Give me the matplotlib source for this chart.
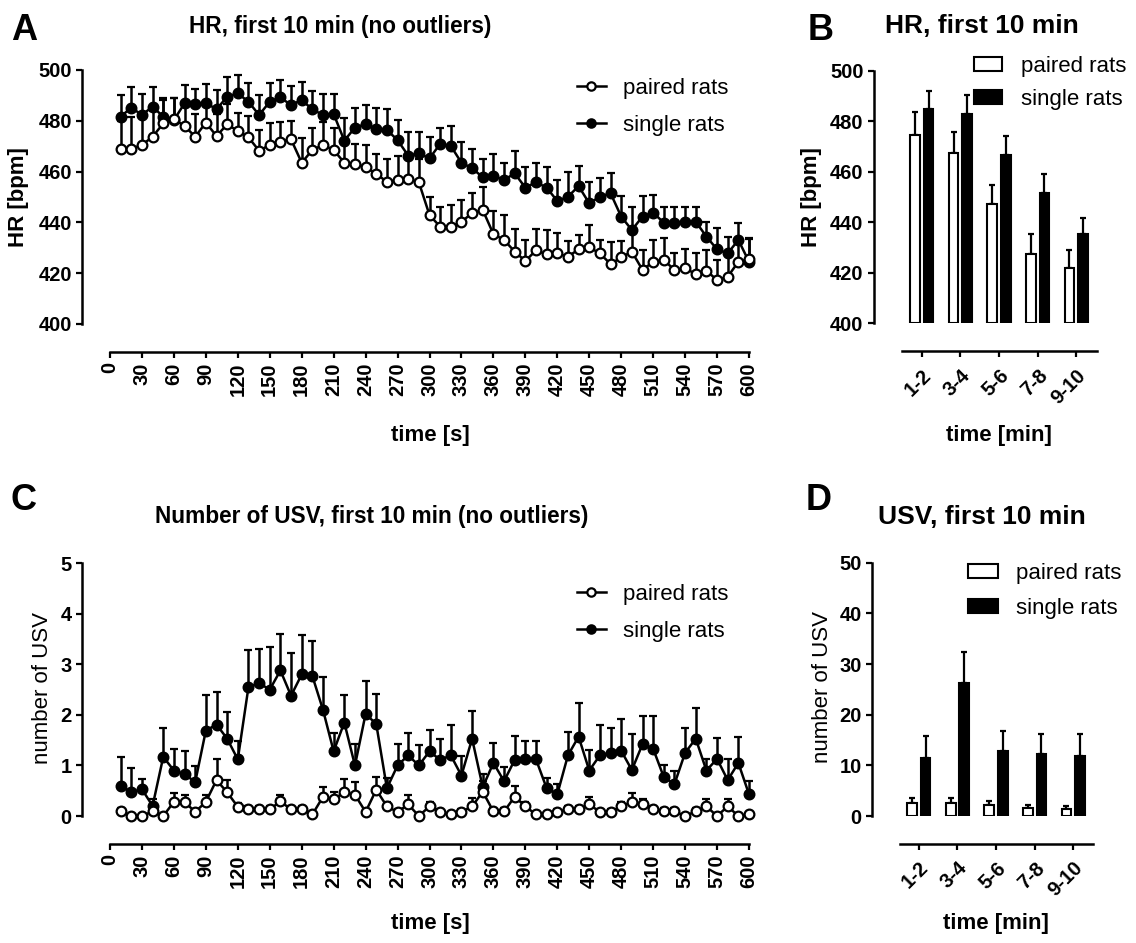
import numpy as np
import matplotlib
matplotlib.use('Agg')
import matplotlib.pyplot as plt
from matplotlib import font_manager as fm
from matplotlib.lines import Line2D
from matplotlib.patches import Patch

# ---------------- data ----------------
time_s = list(range(10, 601, 10))

hr_paired = [468.8, 469.0, 470.5, 473.7, 479.0, 480.6, 478.0, 473.7, 479.3, 474.0,
             478.6, 476.0, 473.5, 468.2, 470.5, 471.8, 472.7, 463.5, 468.5, 470.5,
             468.5, 463.5, 462.9, 461.9, 459.1, 456.0, 456.7, 457.1, 455.8, 442.9,
             438.3, 438.1, 440.3, 443.6, 444.9, 435.4, 433.1, 428.5, 424.8, 429.0,
             427.4, 427.8, 426.5, 429.4, 430.2, 427.8, 423.6, 426.2, 428.5, 421.3,
             424.5, 425.2, 421.3, 421.9, 419.7, 421.0, 417.3, 418.6, 424.5, 425.5]
hr_paired_err = [11.0, 12.6, 11.0, 10.0, 9.0, 8.5, 8.5, 8.9, 8.5, 8.7,
                 8.0, 7.2, 8.4, 8.1, 8.8, 7.9, 7.2, 9.6, 8.5, 8.9,
                 8.8, 8.5, 8.0, 8.5, 7.9, 8.9, 9.6, 9.0, 9.0, 7.0,
                 7.9, 8.8, 8.5, 8.1, 9.2, 9.1, 9.8, 8.8, 8.3, 8.4,
                 9.6, 7.9, 6.3, 5.6, 8.8, 5.2, 8.8, 6.4, 7.2, 7.9,
                 8.5, 8.5, 6.6, 7.5, 8.1, 8.1, 7.9, 8.0, 8.0, 8.0]
hr_single = [481.6, 485.2, 482.3, 485.6, 481.6, 480.3, 486.9, 486.5, 487.1, 484.5,
             489.5, 490.8, 487.5, 482.3, 487.5, 489.2, 486.2, 488.2, 484.5, 482.3,
             482.7, 472.2, 477.3, 478.7, 476.8, 476.4, 472.4, 466.3, 467.2, 465.2,
             470.9, 470.1, 463.5, 461.3, 457.8, 458.4, 456.7, 459.3, 453.7, 455.8,
             453.7, 448.4, 450.1, 454.3, 447.5, 450.1, 451.5, 442.3, 437.0, 442.3,
             443.8, 439.9, 439.9, 440.3, 440.3, 434.4, 429.4, 427.8, 433.1, 424.5]
hr_single_err = [8.5, 8.3, 8.3, 7.9, 7.5, 8.5, 7.2, 5.9, 7.3, 7.6,
                 7.9, 7.2, 7.2, 7.9, 7.5, 6.8, 7.5, 7.2, 7.3, 8.3,
                 7.9, 8.8, 7.6, 7.7, 8.1, 8.3, 7.9, 9.4, 8.5, 8.5,
                 6.4, 7.9, 8.3, 7.5, 7.1, 8.4, 6.8, 8.8, 8.0, 7.6,
                 8.3, 8.3, 9.8, 7.9, 8.5, 7.2, 8.1, 7.9, 9.2, 7.9,
                 7.0, 6.3, 6.3, 5.9, 5.9, 5.9, 8.3, 6.6, 6.6, 9.2]

usv_paired = [0.09, 0.0, 0.0, 0.09, 0.0, 0.28, 0.28, 0.08, 0.28, 0.71,
              0.47, 0.18, 0.13, 0.13, 0.13, 0.29, 0.13, 0.13, 0.03, 0.38,
              0.33, 0.47, 0.42, 0.08, 0.52, 0.19, 0.08, 0.23, 0.0, 0.19,
              0.08, 0.03, 0.08, 0.19, 0.48, 0.09, 0.09, 0.38, 0.19, 0.03,
              0.03, 0.08, 0.13, 0.13, 0.23, 0.08, 0.08, 0.19, 0.28, 0.23,
              0.13, 0.09, 0.09, 0.0, 0.09, 0.19, 0.0, 0.19, 0.0, 0.03]
usv_paired_err = [0.06, 0.0, 0.0, 0.06, 0.0, 0.17, 0.14, 0.06, 0.14, 0.41,
                  0.24, 0.08, 0.06, 0.06, 0.06, 0.13, 0.06, 0.06, 0.03, 0.19,
                  0.15, 0.26, 0.25, 0.06, 0.26, 0.08, 0.06, 0.19, 0.0, 0.08,
                  0.06, 0.03, 0.06, 0.16, 0.21, 0.06, 0.06, 0.21, 0.08, 0.03,
                  0.03, 0.06, 0.06, 0.06, 0.15, 0.06, 0.06, 0.08, 0.17, 0.10,
                  0.06, 0.06, 0.06, 0.0, 0.06, 0.14, 0.0, 0.14, 0.0, 0.03]
usv_single = [0.60, 0.47, 0.53, 0.20, 1.17, 0.90, 0.83, 0.67, 1.69, 1.81,
              1.53, 1.12, 2.55, 2.63, 2.50, 2.88, 2.38, 2.80, 2.77, 2.10,
              1.28, 1.85, 1.00, 2.02, 1.82, 0.55, 1.00, 1.20, 1.00, 1.28,
              1.11, 1.20, 0.80, 1.53, 0.57, 1.05, 0.69, 1.11, 1.12, 1.12,
              0.55, 0.43, 1.20, 1.57, 0.90, 1.20, 1.25, 1.29, 0.91, 1.42,
              1.33, 0.77, 0.63, 1.25, 1.53, 0.90, 1.13, 0.71, 1.05, 0.43]
usv_single_err = [0.57, 0.48, 0.20, 0.13, 0.58, 0.43, 0.46, 0.32, 0.70, 0.64,
                  0.52, 0.36, 0.73, 0.67, 0.85, 0.73, 0.84, 0.78, 0.70, 0.65,
                  0.37, 0.55, 0.42, 0.66, 0.59, 0.20, 0.43, 0.45, 0.41, 0.42,
                  0.41, 0.60, 0.38, 0.55, 0.26, 0.40, 0.28, 0.47, 0.36, 0.37,
                  0.20, 0.20, 0.47, 0.66, 0.40, 0.60, 0.50, 0.63, 0.71, 0.55,
                  0.64, 0.23, 0.26, 0.50, 0.60, 0.23, 0.42, 0.41, 0.52, 0.26]

blocks = ['1-2', '3-4', '5-6', '7-8', '9-10']
hr_block_paired = [474.5, 467.3, 447.1, 427.4, 421.8]
hr_block_paired_err = [9.3, 8.6, 7.6, 7.8, 7.2]
hr_block_single = [484.7, 482.8, 466.6, 451.4, 435.2]
hr_block_single_err = [7.4, 7.5, 7.5, 7.6, 6.4]
usv_block_paired = [2.5, 2.6, 2.2, 1.5, 1.3]
usv_block_paired_err = [1.1, 1.0, 0.8, 0.7, 0.7]
usv_block_single = [11.4, 26.3, 12.9, 12.2, 11.8]
usv_block_single_err = [4.3, 6.1, 3.9, 3.9, 4.4]

# ---------------- fonts ----------------
def has_font(name):
    try:
        fm.findfont(fm.FontProperties(family=name, weight='bold'), fallback_to_default=False)
        return True
    except Exception:
        return False

BASE = 'Liberation Sans' if has_font('Liberation Sans') else 'DejaVu Sans'
plt.rcParams['font.family'] = [BASE, 'DejaVu Sans']
NARROW = has_font('Liberation Sans Narrow')
if NARROW:
    left_title_font = dict(family=['Liberation Sans Narrow', BASE], size=19, weight='bold')
else:
    left_title_font = dict(family=[BASE, 'DejaVu Sans'], size=16.3, weight='bold')

W, H = 1136, 943
fig = plt.figure(figsize=(W / 100, H / 100), dpi=100)

def axes_px(left, right, top, bottom):
    return fig.add_axes([left / W, 1 - bottom / H, (right - left) / W, (bottom - top) / H])

def fx(x):
    return x / W

def fy(y):
    return 1 - y / H

TICK_FS = 14.5
LABEL_FS = 16

def style(ax):
    for s in ['top', 'right']:
        ax.spines[s].set_visible(False)
    for s in ['left', 'bottom']:
        ax.spines[s].set_position(('outward', 20))
        ax.spines[s].set_linewidth(1.8)
    ax.tick_params(direction='out', length=4.5, width=1.6, labelsize=TICK_FS, pad=3)
    for lab in ax.get_xticklabels() + ax.get_yticklabels():
        lab.set_fontweight('bold')

def line_panel(ax, yp, ep, ys, es, ylim, yticks):
    t = np.array(time_s)
    yp, ep, ys, es = map(np.array, (yp, ep, ys, es))
    kw = dict(color='black', lw=1.8, elinewidth=1.8, capsize=3.2, capthick=1.8,
              ms=7, mew=1.6, clip_on=False)
    ax.errorbar(t, ys, yerr=[np.zeros_like(es), es], fmt='-o', mfc='black', mec='black',
                zorder=3, **kw)
    ax.errorbar(t, yp, yerr=[np.zeros_like(ep), ep], fmt='-o', mfc='white', mec='black',
                zorder=4, **kw)
    ax.set_xlim(0, 600)
    ax.set_ylim(*ylim)
    ax.set_xticks(np.arange(0, 601, 30))
    ax.set_yticks(yticks)
    style(ax)
    for lab in ax.get_xticklabels():
        lab.set_rotation(90)
    handles = [Line2D([], [], color='black', lw=1.8, marker='o', ms=6, mfc='white', mec='black', mew=1.6),
               Line2D([], [], color='black', lw=1.8, marker='o', ms=6, mfc='black', mec='black', mew=1.6)]
    return handles

def bar_panel(ax, yp, ep, ys, es, base, ylim, yticks, xlim):
    x = np.arange(len(blocks))
    yp, ep, ys, es = map(np.array, (yp, ep, ys, es))
    w = 0.25
    off = 0.175
    ax.bar(x - off, yp - base, w, bottom=base, color='white', edgecolor='black', lw=1.5, zorder=3)
    ax.bar(x + off, ys - base, w, bottom=base, color='black', edgecolor='black', lw=1.5, zorder=3)
    ekw = dict(fmt='none', ecolor='black', elinewidth=1.6, capsize=2.4, capthick=1.6, zorder=2)
    ax.errorbar(x - off, yp, yerr=[np.zeros_like(ep), ep], **ekw)
    ax.errorbar(x + off, ys, yerr=[np.zeros_like(es), es], **ekw)
    ax.set_xlim(*xlim)
    ax.set_ylim(*ylim)
    ax.set_yticks(yticks)
    ax.set_xticks(x)
    ax.set_xticklabels(blocks)
    style(ax)
    for lab in ax.get_xticklabels():
        lab.set_rotation(45)
        lab.set_ha('right')
        lab.set_rotation_mode('anchor')
    ax.tick_params(axis='x', pad=6)
    handles = [Patch(facecolor='white', edgecolor='black', lw=1.5),
               Patch(facecolor='black', edgecolor='black', lw=1.5)]
    return handles

labels = ['paired rats', 'single rats']

# ---------- Panel A ----------
axA = axes_px(110, 749, 70, 324)
hA = line_panel(axA, hr_paired, hr_paired_err, hr_single, hr_single_err, (400, 500),
                np.arange(400, 501, 20))
fig.legend(hA, labels, loc='upper left', bbox_to_anchor=(fx(577), fy(78)),
           bbox_transform=fig.transFigure, frameon=False, fontsize=16,
           handlelength=1.3, handletextpad=0.75, labelspacing=0.71, borderpad=0,
           borderaxespad=0)

# ---------- Panel B ----------
axB = axes_px(901.7, 1096.7, 70.7, 323.3)
hB = bar_panel(axB, hr_block_paired, hr_block_paired_err, hr_block_single, hr_block_single_err,
               400, (400, 500), np.arange(400, 501, 20), (-0.52, 4.53))
fig.legend(hB, labels, loc='upper left', bbox_to_anchor=(fx(974), fy(56)),
           bbox_transform=fig.transFigure, frameon=False, fontsize=16,
           handlelength=1.25, handleheight=0.6, handletextpad=0.85, labelspacing=0.52,
           borderpad=0, borderaxespad=0)

# ---------- Panel C ----------
axC = axes_px(110, 749, 563.3, 816)
hC = line_panel(axC, usv_paired, usv_paired_err, usv_single, usv_single_err, (0, 5),
                np.arange(0, 6, 1))
fig.legend(hC, labels, loc='upper left', bbox_to_anchor=(fx(577), fy(584)),
           bbox_transform=fig.transFigure, frameon=False, fontsize=16,
           handlelength=1.3, handletextpad=0.75, labelspacing=0.71, borderpad=0,
           borderaxespad=0)

# ---------- Panel D ----------
axD = axes_px(900, 1093.3, 562.7, 816)
hD = bar_panel(axD, usv_block_paired, usv_block_paired_err, usv_block_single, usv_block_single_err,
               0, (0, 50), np.arange(0, 51, 10), (-0.49, 4.52))
fig.legend(hD, labels, loc='upper left', bbox_to_anchor=(fx(968), fy(563)),
           bbox_transform=fig.transFigure, frameon=False, fontsize=16,
           handlelength=1.35, handleheight=0.6, handletextpad=0.8, labelspacing=0.63,
           borderpad=0, borderaxespad=0)

# ---------- texts ----------
fig.text(fx(340), fy(26), 'HR, first 10 min (no outliers)', ha='center', va='center', **left_title_font)
fig.text(fx(372), fy(517), 'Number of USV, first 10 min (no outliers)', ha='center', va='center', **left_title_font)
fig.text(fx(982), fy(26), 'HR, first 10 min', ha='center', va='center', fontsize=19, fontweight='bold')
fig.text(fx(982), fy(517), 'USV, first 10 min', ha='center', va='center', fontsize=19, fontweight='bold')

for letter, x, y in [('A', 11, 40), ('B', 808, 40), ('C', 11, 510), ('D', 806, 510)]:
    fig.text(fx(x), fy(y), letter, ha='left', va='baseline', fontsize=26, fontweight='bold')

fig.text(fx(430), fy(436), 'time [s]', ha='center', va='center', fontsize=LABEL_FS, fontweight='bold')
fig.text(fx(999), fy(436), 'time [min]', ha='center', va='center', fontsize=LABEL_FS, fontweight='bold')
fig.text(fx(430), fy(924), 'time [s]', ha='center', va='center', fontsize=LABEL_FS, fontweight='bold')
fig.text(fx(996), fy(924), 'time [min]', ha='center', va='center', fontsize=LABEL_FS, fontweight='bold')

fig.text(fx(19), fy(197), 'HR [bpm]', ha='center', va='center', rotation=90, fontsize=LABEL_FS, fontweight='bold')
fig.text(fx(812), fy(197), 'HR [bpm]', ha='center', va='center', rotation=90, fontsize=LABEL_FS, fontweight='bold')
fig.text(fx(43), fy(688), 'number of USV', ha='center', va='center', rotation=90, fontsize=LABEL_FS)
fig.text(fx(823), fy(687), 'number of USV', ha='center', va='center', rotation=90, fontsize=LABEL_FS)

fig.savefig('out.png', dpi=100, facecolor='white')
